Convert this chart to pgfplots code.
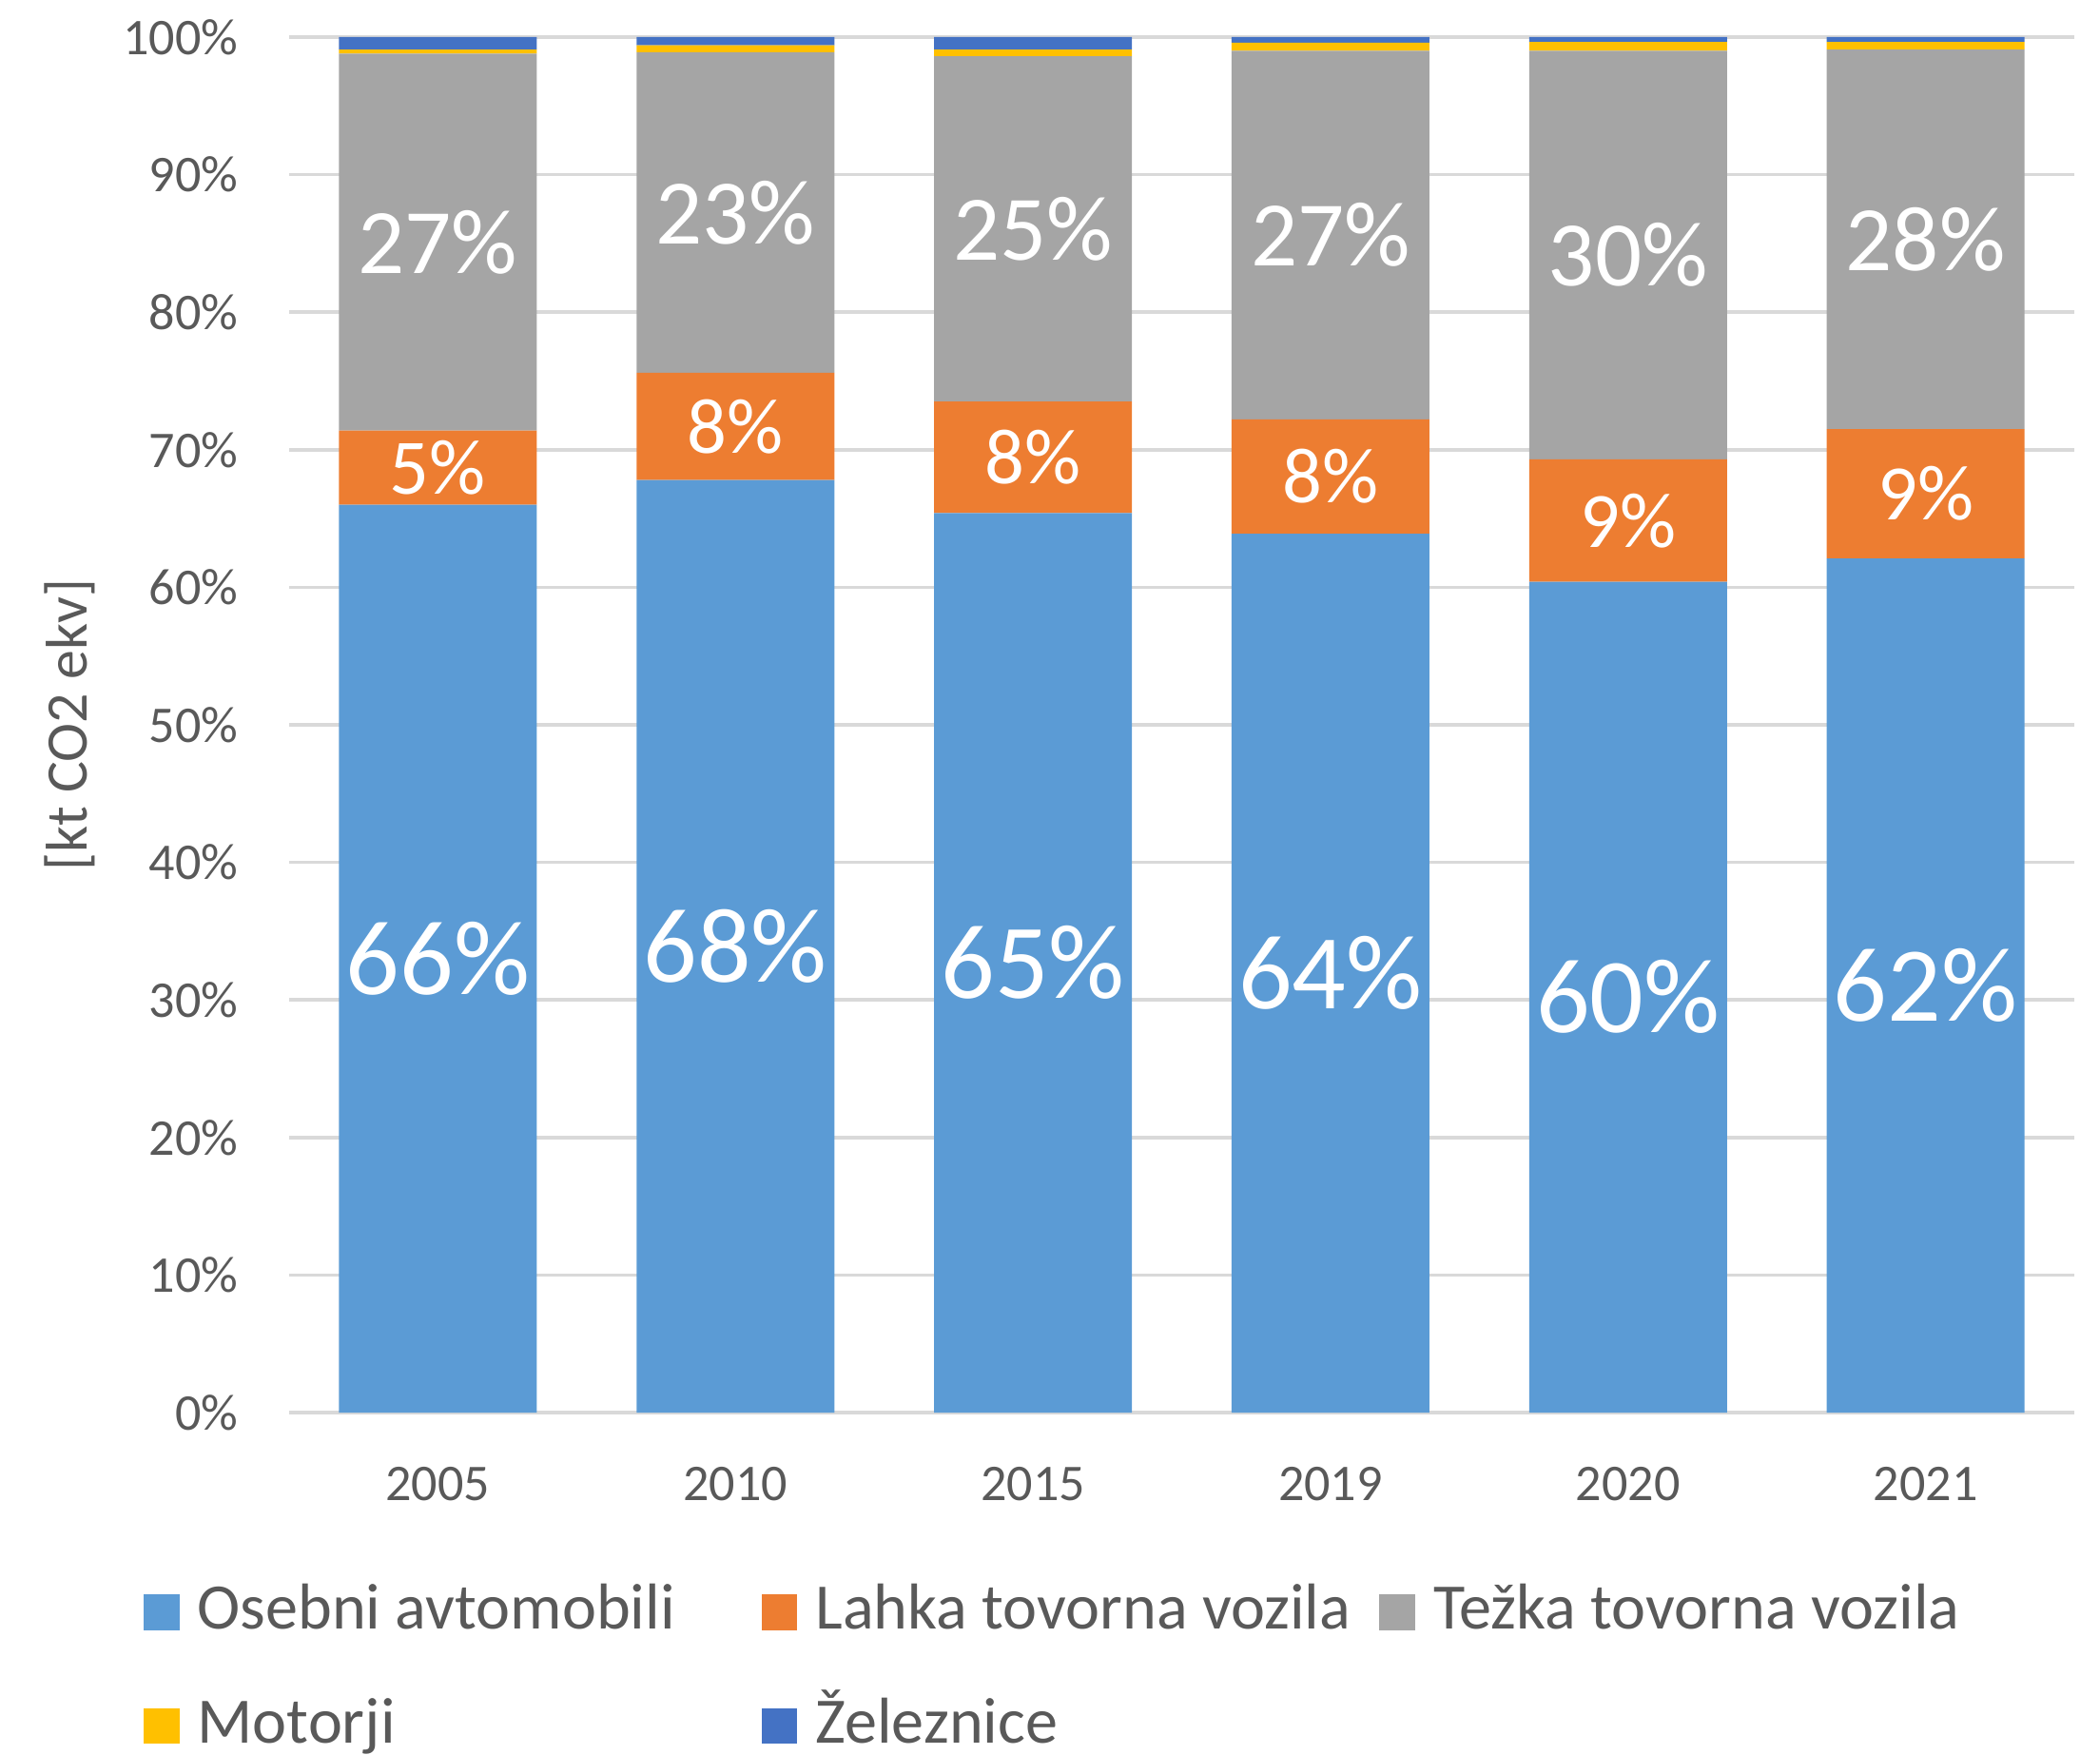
\documentclass[border=0pt]{standalone}
\usepackage{pgfplots}
\pgfplotsset{compat=1.18}
\usepackage{pgfplotstable}
\usepackage{fontspec}
\setmainfont{Carlito}
\definecolor{cA}{HTML}{5B9BD5}
\definecolor{cB}{HTML}{ED7D31}
\definecolor{cC}{HTML}{A5A5A5}
\definecolor{cD}{HTML}{FFC000}
\definecolor{cE}{HTML}{4472C4}
\definecolor{txt}{HTML}{595959}
\definecolor{grd}{HTML}{D9D9D9}
\pgfplotstableread{
x A B C D E
0 66.0 5.4 27.4 0.30 0.90
1 67.8 7.8 23.3 0.50 0.60
2 65.4 8.1 25.1 0.50 0.90
3 63.9 8.3 26.8 0.60 0.40
4 60.4 8.9 29.7 0.65 0.35
5 62.1 9.4 27.6 0.55 0.35
}\datatable
\begin{document}
\begin{tikzpicture}
\path[use as bounding box] (-30.4mm,-35.9mm) rectangle (190.4mm,148.5mm);
\begin{axis}[
  at={(0,0)}, anchor=south west,
  scale only axis, width=187.7mm, height=144.6mm,
  ybar stacked, bar width=20.8mm,
  xmin=-0.5, xmax=5.5, ymin=0, ymax=100,
  xtick={0,...,5}, xticklabels={2005,2010,2015,2019,2020,2021},
  minor xtick={-0.5,0.5,...,5.5},
  ytick={0,10,...,100},
  yticklabel={\pgfmathprintnumber[assume math mode=true]{\tick}\%},
  ymajorgrids, major grid style={grd, line width=1pt},
  axis line style={draw=none},
  extra y ticks={0}, extra y tick labels={},
  extra y tick style={grid style={grd, line width=1.2pt}},
  major tick length=0pt,
  minor tick length=1.8mm, tick align=outside,
  minor tick style={grd, line width=1pt},
  ytick style={draw=none},
  xtick style={draw=none},
  tick label style={font=\fontsize{15.4}{18}\selectfont, text=txt},
  xticklabel style={anchor=center, yshift=-7.5mm},
  yticklabel style={anchor=east, inner sep=0pt, xshift=-5.3mm},
  ylabel={[kt CO2 ekv]},
  ylabel style={at={(axis description cs:-0.123,0.5)}, anchor=center, font=\fontsize{17.6}{21}\selectfont, text=txt},
  legend columns=3,
  legend cell align=left,
  legend image code/.code={\fill[#1] (0pt,-5.4pt) rectangle (10.8pt,5.4pt);},
  legend style={draw=none, fill=none, at={(axis description cs:-0.0877,-0.118)}, anchor=north west,
    font=\fontsize{19.4}{23}\selectfont, text=txt, column sep=5.4pt, row sep=16pt,
    nodes={inner sep=0pt, text height=14pt, text depth=4pt}},
  every node near coord/.append style={anchor=center, text=white, inner sep=0pt},
]
\addplot[fill=cA, draw=none,
  point meta=\thisrow{A},
  nodes near coords={\pgfmathprintnumber[fixed,precision=0,assume math mode=true]{\pgfplotspointmeta}\%},
  every node near coord/.append style={font=\fontsize{31.8}{36}\selectfont}]
  table[x=x, y=A] {\datatable};
\addlegendentry{\makebox[57.4mm][l]{Osebni avtomobili}}
\addplot[fill=cB, draw=none,
  point meta=\thisrow{B},
  nodes near coords={\pgfmathprintnumber[fixed,precision=0,assume math mode=true]{\pgfplotspointmeta}\%},
  every node near coord/.append style={font=\fontsize{23.5}{28}\selectfont}]
  table[x=x, y=B] {\datatable};
\addlegendentry{\makebox[57.4mm][l]{Lahka tovorna vozila}}
\addplot[fill=cC, draw=none,
  point meta=\thisrow{C},
  nodes near coords={\pgfmathprintnumber[fixed,precision=0,assume math mode=true]{\pgfplotspointmeta}\%},
  every node near coord/.append style={font=\fontsize{27.6}{32}\selectfont}]
  table[x=x, y=C] {\datatable};
\addlegendentry{Težka tovorna vozila}
\addplot[fill=cD, draw=none] table[x=x, y=D] {\datatable};
\addlegendentry{Motorji}
\addplot[fill=cE, draw=none] table[x=x, y=E] {\datatable};
\addlegendentry{Železnice}
\end{axis}
\end{tikzpicture}
\end{document}
